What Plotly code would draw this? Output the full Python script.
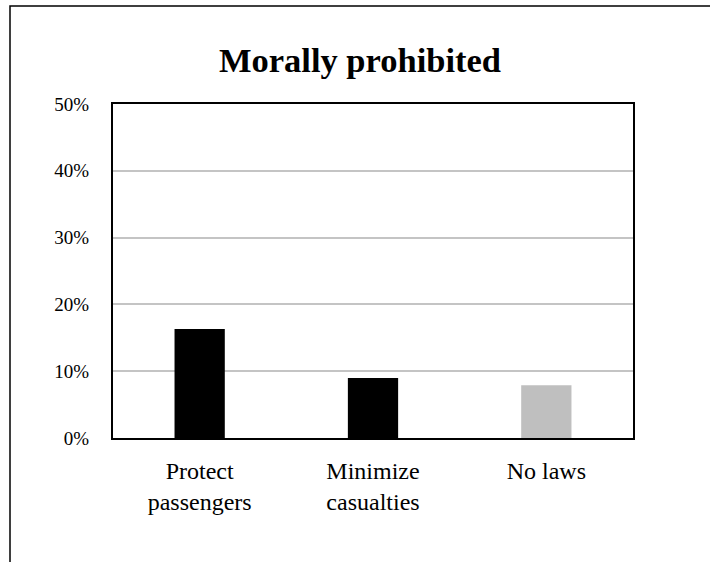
import plotly.graph_objects as go

categories = ["Protect<br>passengers", "Minimize<br>casualties", "No laws"]
values = [16.3, 9.0, 7.9]
colors = ["#000000", "#000000", "#bfbfbf"]
y_ticks = [0, 10, 20, 30, 40, 50]
y_tick_labels = ["0%", "10%", "20%", "30%", "40%", "50%"]

W, H = 710, 562
L, R, T, B = 113, 77, 104, 124
pw, ph = W - L - R, H - T - B

fig = go.Figure()
fig.add_trace(go.Bar(
    x=categories, y=values, marker=dict(color=colors, line=dict(width=0)),
    width=0.29, hoverinfo="skip"))

font_family = "Liberation Serif, DejaVu Serif, serif"
fig.update_layout(
    width=W, height=H,
    margin=dict(l=L, r=R, t=T, b=B, pad=0),
    paper_bgcolor="white", plot_bgcolor="white",
    showlegend=False,
    font=dict(family=font_family, color="black", size=19),
    title=dict(text="<b>Morally prohibited</b>", x=360 / W, xanchor="center",
               y=1 - 60 / H, yanchor="middle",
               font=dict(family=font_family, size=34.5, color="black")),
    xaxis=dict(type="category", range=[-0.5, 2.5], showgrid=False, zeroline=False,
               showline=True, linecolor="black", linewidth=2, mirror=True,
               ticks="outside", ticklen=10, tickcolor="rgba(0,0,0,0)",
               tickfont=dict(size=24)),
    yaxis=dict(range=[0, 50], tickmode="array", tickvals=y_ticks, ticktext=y_tick_labels,
               showgrid=True, gridcolor="#c4c4c4", gridwidth=1.5, zeroline=False,
               showline=True, linecolor="black", linewidth=2, mirror=True,
               ticks="outside", ticklen=18, tickcolor="rgba(0,0,0,0)", tickfont=dict(size=19)),
)

# outer frame (only left and top edges visible in the reference)
x0 = (10 - L) / pw
y1 = (H - B - 6) / ph
fig.add_shape(type="rect", xref="paper", yref="paper", x0=x0, x1=2, y0=-1, y1=y1,
              line=dict(color="black", width=1.5), layer="below")

fig.write_html("out.html", config={"displayModeBar": False},
               post_script="document.body.style.margin='0';")
